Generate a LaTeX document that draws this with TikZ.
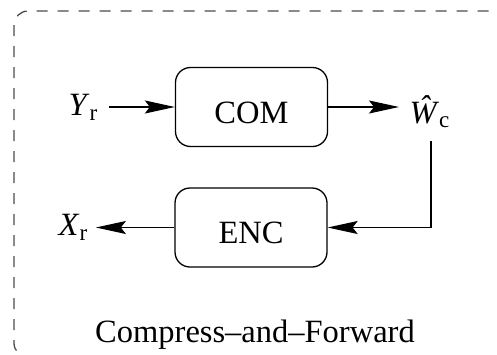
\documentclass[tikz,border=0pt]{standalone}
\usepackage{fontspec}
\setmainfont{Liberation Serif}
\usetikzlibrary{arrows.meta}
\begin{document}
\begin{tikzpicture}[x=1pt,y=-1pt, line width=1.3pt,
  every node/.style={font=\fontsize{32.5}{39}\selectfont},
  blk/.style={draw, rounded corners=15pt, minimum width=152pt, minimum height=79pt, inner sep=0pt, text height=32pt, text depth=0pt},
  lbl/.style={inner sep=0pt, anchor=base west},
  arr/.style={-{Stealth[length=30pt,width=13pt,inset=5pt]}},
  frame/.style={draw=black!70, dash pattern=on 11pt off 10pt, rounded corners=14pt}]
\useasboundingbox (0,0) rectangle (497,354);
\draw[frame] (14,11) rectangle (520,357);
\node[blk] (com) at (251.5,107) {COM};
\node[blk] (enc) at (251,227.5) {ENC};
\node[lbl] (yr) at (68,115) {\textit{Y}\raisebox{-5pt}{\fontsize{23}{23}\selectfont r}};
\node[lbl] (wc) at (409,123) {\textit{Ŵ}\raisebox{-4pt}{\fontsize{23}{23}\selectfont c}};
\node[lbl] (xr) at (58,235) {\textit{X}\raisebox{-5pt}{\fontsize{23}{23}\selectfont r}};
\node[anchor=base, inner sep=0pt] (cf) at (255,342) {Compress–and–Forward};
\coordinate (turn) at (431,227.5);
\draw[arr] ([xshift=11pt]yr.east |- com.west) -- (com.west);
\draw[arr] (com.east) -- ([xshift=-10pt]wc.west |- com.east);
\draw[arr] ([yshift=-13pt]wc.south -| turn) -- (turn) -- (enc.east);
\draw[arr] (enc.west) -- ([xshift=8pt]xr.east |- enc.west);
\end{tikzpicture}
\end{document}
